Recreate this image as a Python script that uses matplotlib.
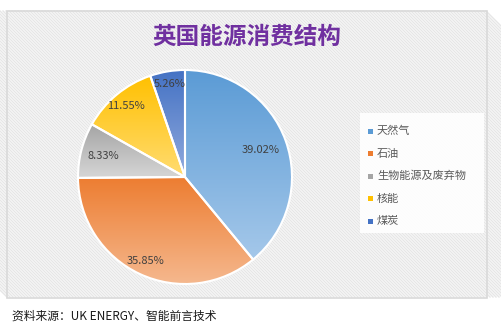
import numpy as np
import matplotlib
matplotlib.use("Agg")
from matplotlib import pyplot as plt
from matplotlib.patches import Rectangle
from matplotlib.collections import LineCollection
from matplotlib.colors import LinearSegmentedColormap

plt.rcParams['font.family'] = ['Noto Sans CJK SC', 'DejaVu Sans']

# 数据
labels = ['天然气', '石油', '生物能源及废弃物', '核能', '煤炭']
shares = [39.02, 35.85, 8.33, 11.55, 5.26]
top_colors = ['#5B9BD5', '#ED7D31', '#A5A5A5', '#FFC000', '#4472C4']
bottom_colors = ['#A5C8EA', '#F5B88E', '#D6D6D6', '#FFDC72', '#91AADD']
label_dist = [0.75, 0.87, 0.79, 0.86, 0.88]

W, H = 501, 328
fig = plt.figure(figsize=(W / 100, H / 100), dpi=100)
fig.patch.set_facecolor('white')

# 背景: 斜纹图表区
bg = fig.add_axes([0, 0, 1, 1])
bg.set_autoscale_on(False)
bg.set_xlim(0, W)
bg.set_ylim(H, 0)
bg.axis('off')
x0, y0, x1, y1 = 7.5, 10.5, 487.5, 297.5
frame = Rectangle((x0, y0), x1 - x0, y1 - y0, facecolor='white',
                  edgecolor='none', zorder=1)
bg.add_patch(frame)
segs = []
for s in np.arange(x0 - (y1 - y0), x1, 3.0):
    segs.append([(s, y0), (s + (y1 - y0), y1)])
lc = LineCollection(segs, colors='#E6E6E6', linewidths=1.0, zorder=2)
lc.set_clip_path(frame)
bg.add_collection(lc, autolim=False)
bg.add_patch(Rectangle((x0, y0), x1 - x0, y1 - y0, facecolor='none',
                       edgecolor='#D9D9D9', lw=1.2, zorder=3))

# 图例区
bg.add_patch(Rectangle((360, 113), 124, 120, facecolor='white',
                       edgecolor='none', alpha=0.9, zorder=3))
for i, name in enumerate(labels):
    yy = 131 + i * 22.5
    bg.add_patch(Rectangle((368.5, yy - 2.5), 5, 5, facecolor=top_colors[i],
                           edgecolor='none', zorder=4))
    bg.text(377, yy, name, fontsize=8, color='#595959', va='center',
            ha='left', zorder=4)

# 标题与资料来源
bg.text(247, 37, '英国能源消费结构', fontsize=17, fontweight='bold',
        color='#7030A0', ha='center', va='center', zorder=4)
bg.text(12, 316, '资料来源：UK ENERGY、智能前言技术', fontsize=8.5,
        color='#1A1A1A', ha='left', va='center', zorder=4)
bg.set_xlim(0, W)
bg.set_ylim(H, 0)

# 饼图
cx, cy, r = 185, 177, 107
ax = fig.add_axes([(cx - r) / W, (H - cy - r) / H, 2 * r / W, 2 * r / H])
wedges, _ = ax.pie(shares, startangle=90, counterclock=False,
                   colors=top_colors,
                   wedgeprops=dict(edgecolor='white', linewidth=1.5))

grad = np.linspace(0, 1, 256).reshape(-1, 1)
for i, w in enumerate(wedges):
    ext = w.get_path().get_extents()
    cmap = LinearSegmentedColormap.from_list('g%d' % i,
                                             [top_colors[i], bottom_colors[i]])
    im = ax.imshow(grad, cmap=cmap, aspect='auto', origin='upper',
                   extent=[ext.x0, ext.x1, ext.y0, ext.y1], zorder=1)
    im.set_clip_path(w)
    w.set_facecolor('none')
    w.set_zorder(2)

    ang = np.deg2rad((w.theta1 + w.theta2) / 2)
    d = label_dist[i]
    ax.text(d * np.cos(ang), d * np.sin(ang), '%.2f%%' % shares[i],
            fontsize=8, color='#404040', ha='center', va='center', zorder=3)

ax.set_xlim(-1, 1)
ax.set_ylim(-1, 1)
ax.axis('off')

fig.savefig('out.png', dpi=100)
